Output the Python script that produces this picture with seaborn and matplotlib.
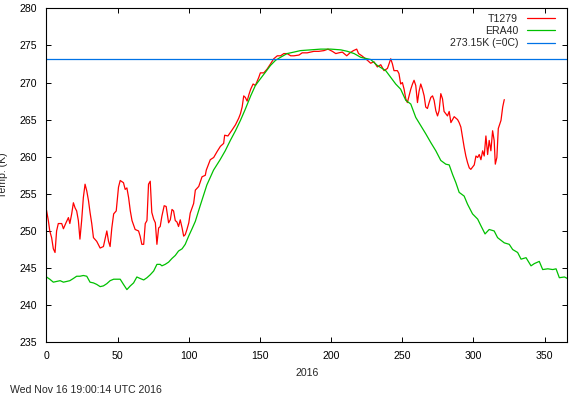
import numpy as np
import pandas as pd
import matplotlib
matplotlib.use('Agg')
import matplotlib.pyplot as plt
import seaborn as sns

# T1279 analysis (day of year, K)
t1279_day = [0, 1.3, 2.3, 3.6, 4.8, 6.0, 7.1, 8.3, 10.7, 11.9, 13.7, 15.4, 16.4, 17.7,
             18.9, 20.1, 21.2, 22.4, 23.5, 24.7, 25.9, 27.1, 28.3, 29.5, 30.6, 31.8,
             33.0, 35.3, 37.7, 40.0, 42.4, 43.6, 44.7, 45.9, 47.2, 49.0, 50.6, 51.8,
             54.1, 55.3, 56.5, 57.7, 58.9, 60.1, 62.3, 64.7, 65.8, 67.0, 68.3, 69.4,
             70.6, 71.7, 72.9, 74.0, 75.3, 76.5, 77.6, 78.8, 79.9, 81.1, 82.7, 84.1,
             85.8, 87.0, 88.2, 89.3, 90.5, 91.7, 92.8, 94.0, 95.3, 96.4, 97.5, 98.7,
             100.0, 101.0, 103.4, 104.6, 107.0, 109.3, 111.6, 112.3, 115.1, 117.5,
             119.9, 122.2, 124.5, 125.2, 127.5, 130.4, 132.8, 135.1, 136.3, 137.5,
             138.6, 139.7, 141.0, 142.3, 143.5, 145.2, 146.8, 149.2, 150.3, 152.7,
             155.0, 157.4, 159.7, 162.2, 164.5, 166.8, 169.1, 171.6, 173.9, 177.4,
             179.7, 183.2, 187.9, 191.3, 195.0, 197.8, 200.9, 203.3, 205.4, 207.9,
             211.0, 213.3, 215.7, 218.0, 219.3, 221.6, 225.5, 227.8, 230.1, 232.5,
             234.9, 237.2, 239.6, 240.7, 241.9, 243.1, 244.2, 246.6, 247.7, 248.9,
             250.1, 251.3, 252.5, 253.6, 254.8, 256.0, 257.2, 258.3, 259.5, 260.7,
             261.8, 263.0, 264.2, 265.4, 266.5, 267.7, 268.9, 270.1, 271.3, 272.4,
             273.6, 274.8, 275.9, 277.1, 278.3, 279.4, 281.8, 283.0, 284.2, 286.5,
             288.9, 290.0, 291.2, 292.4, 293.5, 294.7, 295.9, 297.1, 298.2, 299.4,
             300.6, 301.8, 303.0, 304.1, 305.3, 306.5, 307.6, 308.8, 310.0, 311.1,
             312.3, 313.5, 314.6, 315.4, 316.5, 317.5, 319.4, 320.6, 321.7]
t1279_temp = [252.8, 251.4, 250.0, 249.1, 247.6, 247.1, 250.0, 251.0, 251.0, 250.3,
              251.1, 251.8, 251.0, 252.3, 253.8, 253.1, 252.7, 251.4, 248.9, 251.4,
              254.5, 256.3, 255.4, 254.1, 252.5, 251.0, 249.1, 248.6, 247.7, 247.9,
              250.0, 248.6, 247.9, 250.4, 252.3, 252.7, 255.9, 256.8, 256.5, 255.6,
              255.8, 254.5, 252.7, 251.4, 250.2, 250.0, 249.3, 248.2, 248.2, 251.0,
              251.4, 256.3, 256.7, 252.5, 251.6, 251.1, 248.2, 250.4, 250.6, 252.0,
              253.4, 253.3, 251.1, 251.5, 252.9, 252.7, 251.4, 251.2, 250.6, 251.5,
              250.4, 249.3, 249.5, 250.2, 251.1, 252.4, 253.7, 255.5, 256.0, 257.3,
              257.5, 258.2, 259.6, 259.9, 260.7, 261.4, 261.8, 262.9, 262.8, 263.6,
              264.3, 265.2, 265.8, 266.7, 268.2, 268.0, 267.5, 268.4, 269.1, 269.8,
              269.6, 270.7, 271.3, 271.3, 271.8, 272.5, 273.2, 273.6, 273.6, 273.9,
              273.9, 273.6, 273.6, 273.7, 274.0, 274.0, 274.2, 274.2, 274.3, 274.5,
              274.2, 273.9, 274.0, 274.1, 273.6, 274.0, 274.3, 274.5, 273.9, 273.6,
              273.0, 272.6, 272.8, 272.1, 272.4, 271.6, 271.9, 272.5, 273.2, 272.5,
              271.6, 271.6, 271.2, 269.8, 270.0, 269.1, 267.8, 267.3, 268.2, 269.1,
              269.8, 270.3, 269.6, 267.3, 268.8, 269.8, 269.1, 268.2, 266.7, 266.5,
              267.3, 268.0, 268.2, 267.6, 266.2, 265.5, 266.2, 268.5, 267.8, 266.1,
              265.5, 266.1, 264.6, 265.4, 265.0, 264.6, 264.0, 262.6, 261.3, 260.1,
              259.2, 258.5, 258.3, 258.6, 258.9, 260.1, 259.9, 260.3, 259.6, 260.8,
              260.1, 262.8, 260.3, 262.2, 260.8, 263.5, 262.2, 259.0, 259.9, 263.8,
              264.9, 266.7, 267.7]

# ERA40 climatology
era40_day = [0, 2.3, 4.8, 7.1, 9.6, 11.9, 14.2, 16.4, 18.9, 21.2, 23.5, 25.9, 28.3,
             30.6, 33.0, 35.3, 37.7, 40.0, 42.4, 44.7, 47.2, 49.5, 51.8, 54.1, 56.5,
             58.9, 61.2, 63.5, 65.8, 68.3, 70.6, 72.9, 75.3, 77.6, 79.9, 81.1, 83.4,
             85.8, 88.2, 90.5, 92.8, 95.3, 97.5, 99.9, 102.3, 104.6, 108.0, 112.7,
             117.4, 122.0, 125.6, 129.2, 132.8, 136.3, 139.7, 143.5, 146.8, 150.3,
             153.9, 157.4, 161.0, 164.5, 169.1, 173.9, 178.5, 185.6, 192.7, 199.8,
             206.8, 211.5, 216.2, 220.8, 227.8, 232.5, 238.4, 241.9, 245.4, 248.9,
             252.5, 256.0, 259.5, 263.0, 266.5, 270.1, 273.6, 277.1, 280.6, 283.0,
             285.4, 287.7, 290.0, 293.5, 295.9, 299.4, 303.0, 305.3, 308.2, 311.1,
             314.6, 317.0, 321.7, 325.2, 327.6, 331.1, 333.5, 337.0, 340.5, 342.8,
             346.3, 348.7, 352.3, 355.8, 358.1, 360.4, 364.0, 366.0]
era40_temp = [243.8, 243.5, 243.1, 243.2, 243.3, 243.1, 243.2, 243.3, 243.6, 243.9,
              243.9, 244.0, 243.9, 243.1, 243.0, 242.8, 242.5, 242.6, 242.9, 243.3,
              243.5, 243.5, 243.5, 242.8, 242.1, 242.6, 243.0, 243.8, 243.6, 243.4,
              243.7, 244.1, 244.6, 245.5, 245.5, 245.3, 245.5, 245.8, 246.3, 246.7,
              247.3, 247.6, 248.2, 249.3, 250.3, 251.3, 253.4, 256.2, 258.2, 259.6,
              260.8, 262.2, 263.5, 264.9, 266.4, 268.2, 269.6, 270.5, 271.4, 272.3,
              273.0, 273.4, 273.9, 274.1, 274.3, 274.4, 274.5, 274.5, 274.4, 274.2,
              273.9, 273.4, 273.1, 272.3, 271.6, 270.7, 269.8, 269.1, 267.6, 267.1,
              265.3, 264.2, 263.1, 261.9, 260.8, 259.5, 259.0, 258.9, 257.6, 256.5,
              255.2, 254.7, 253.6, 252.3, 251.6, 250.7, 249.6, 250.2, 250.0, 249.1,
              248.4, 248.2, 247.5, 247.1, 246.2, 246.4, 245.3, 245.6, 245.9, 244.8,
              244.9, 244.8, 244.9, 243.7, 243.8, 243.6]

FREEZING = 273.15
labels = ["T1279", "ERA40", "273.15K (=0C)"]
x_ticks = list(range(0, 351, 50))
y_ticks = list(range(235, 281, 5))

sns.set_style("ticks")
plt.rcParams['font.family'] = ['Liberation Sans', 'DejaVu Sans']
plt.rcParams['font.size'] = 7.6

fig = plt.figure(figsize=(5.79, 3.97), dpi=100)
ax = fig.add_axes([0.0803, 0.1378, 0.8995, 0.8413])

t1279 = pd.DataFrame({"day": t1279_day, "temp": t1279_temp})
era40 = pd.DataFrame({"day": era40_day, "temp": era40_temp})

sns.lineplot(data=t1279, x="day", y="temp", color="#ff0000", lw=0.9,
             estimator=None, ax=ax, label=labels[0])
sns.lineplot(data=era40, x="day", y="temp", color="#00c000", lw=0.9,
             estimator=None, ax=ax, label=labels[1])
ax.axhline(FREEZING, color="#0072e6", lw=0.9, label=labels[2])

ax.set_xlim(0, 366)
ax.set_ylim(235, 280)
ax.set_xticks(x_ticks)
ax.set_yticks(y_ticks)
ax.tick_params(direction='in', top=True, right=True, length=3.5, width=0.7,
               colors='black', labelsize=7.6)
ax.tick_params(axis='x', pad=6.5)
ax.tick_params(axis='y', pad=7)
for s in ax.spines.values():
    s.set_linewidth(0.8)
    s.set_color('black')

ax.set_xlabel("2016", fontsize=7.6)
ax.set_ylabel("Temp. (K)", fontsize=7.6)
ax.xaxis.set_label_coords(0.5, -0.077)
ax.yaxis.set_label_coords(-0.073, 0.5)

leg = ax.legend(loc='upper right', bbox_to_anchor=(0.9764, 0.9844),
                markerfirst=False, frameon=False, fontsize=7.6,
                handlelength=2.65, handletextpad=0.85, labelspacing=0.23,
                borderpad=0, borderaxespad=0)

fig.text(10 / 579, 1 - 390 / 397, "Wed Nov 16 19:00:14 UTC 2016",
         fontsize=7.6, va='center', ha='left')

fig.savefig("out.png", dpi=100)
